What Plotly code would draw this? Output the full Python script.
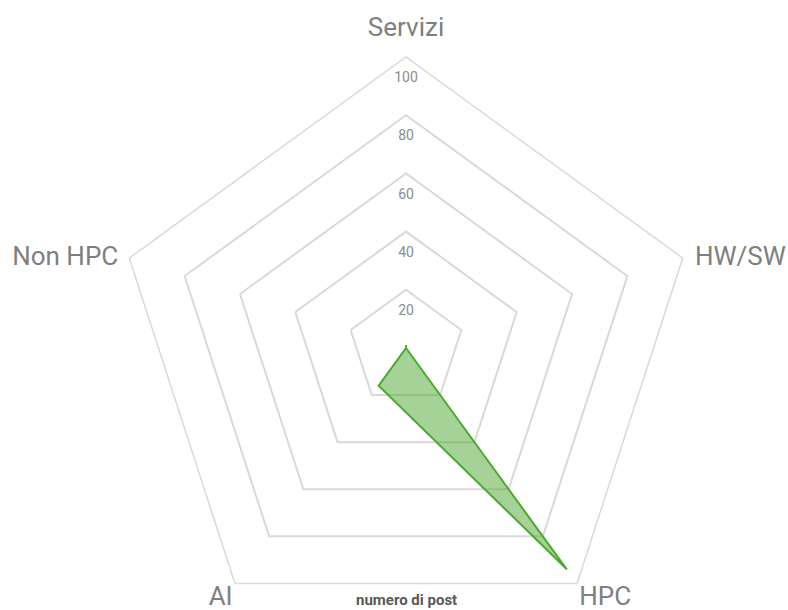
import plotly.graph_objects as go

# Categories (clockwise from the top) and number of posts per category
categories = ["Servizi", "HW/SW", "HPC", "AI", "Non HPC"]
post_counts = [1, 0, 94, 16, 0]

# Radial scale
radial_ticks = [20, 40, 60, 80, 100]
radial_max = 100

FIG_W, FIG_H = 788, 640
CX, CY, R = 406, 348, 291  # polar centre / radius in pixels

font_family = "Roboto, 'Open Sans', sans-serif"
grid_color = "#d9d9d9"
label_color = "#7f7f7f"

fig = go.Figure()

fig.add_trace(go.Scatterpolar(
    r=post_counts + post_counts[:1],
    theta=categories + categories[:1],
    mode="lines",
    fill="toself",
    fillcolor="rgba(76,165,46,0.5)",
    line=dict(color="#4ea72e", width=2),
    hoverinfo="skip",
    showlegend=False,
))

# radial tick values written just below each ring on the top spoke
fig.add_trace(go.Scatterpolar(
    r=radial_ticks,
    theta=[categories[0]] * len(radial_ticks),
    mode="markers+text",
    marker=dict(size=22, color="rgba(0,0,0,0)"),
    text=[str(v) for v in radial_ticks],
    textposition="bottom center",
    textfont=dict(family=font_family, size=14, color="#8c8c8c"),
    hoverinfo="skip",
    showlegend=False,
    cliponaxis=False,
))

# category names placed just outside the outer ring
fig.add_trace(go.Scatterpolar(
    r=[radial_max] * len(categories),
    theta=categories,
    mode="markers+text",
    marker=dict(size=[22, 18, 2, 2, 16], color="rgba(0,0,0,0)"),
    text=categories,
    textposition=["top center", "middle right", "bottom right",
                  "bottom left", "middle left"],
    textfont=dict(family=font_family, size=26, color=label_color),
    hoverinfo="skip",
    showlegend=False,
    cliponaxis=False,
))

fig.update_layout(
    width=FIG_W,
    height=FIG_H,
    margin=dict(l=0, r=0, t=0, b=0),
    paper_bgcolor="white",
    plot_bgcolor="white",
    font=dict(family=font_family),
    polar=dict(
        domain=dict(
            x=[(CX - R) / FIG_W, (CX + R) / FIG_W],
            y=[(FIG_H - CY - R) / FIG_H, (FIG_H - CY + R) / FIG_H],
        ),
        bgcolor="white",
        gridshape="linear",
        radialaxis=dict(
            range=[0, radial_max],
            tickvals=radial_ticks,
            showticklabels=False,
            ticks="",
            showline=False,
            gridcolor=grid_color,
            gridwidth=1.5,
        ),
        angularaxis=dict(
            categoryorder="array",
            categoryarray=categories,
            direction="clockwise",
            rotation=90,
            showgrid=False,
            showline=True,
            linecolor=grid_color,
            linewidth=1.5,
            ticks="",
            showticklabels=False,
        ),
    ),
    annotations=[dict(
        text="<b>numero di post</b>",
        x=CX / FIG_W,
        y=(FIG_H - 600) / FIG_H,
        xref="paper", yref="paper",
        xanchor="center", yanchor="middle",
        showarrow=False,
        font=dict(family=font_family, size=15, color="#595959"),
    )],
)

fig.write_html("out.html")
